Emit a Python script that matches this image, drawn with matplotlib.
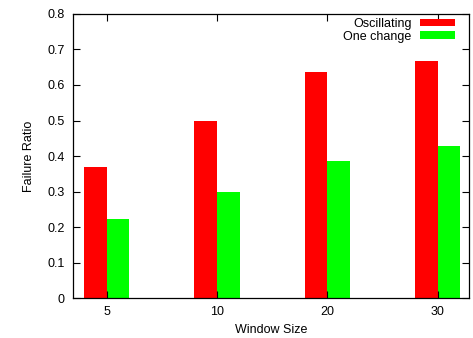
import numpy as np
import matplotlib
matplotlib.use("Agg")
import matplotlib.pyplot as plt

plt.rcParams['font.family'] = ['Liberation Sans', 'DejaVu Sans']

# data
windows = ['5', '10', '20', '30']
oscillating = [0.368, 0.498, 0.638, 0.669]
one_change = [0.222, 0.298, 0.385, 0.427]

fig = plt.figure(figsize=(4.73, 3.38), dpi=100)
ax = fig.add_axes([0.1543, 0.1183, 0.8372, 0.8403])

x = np.arange(len(windows))
w = 0.205
ax.bar(x - w / 2, oscillating, w, color='#ff0000', label='Oscillating')
ax.bar(x + w / 2, one_change, w, color='#00ff00', label='One change')

ax.set_xlim(-0.306, 3.285)
ax.set_ylim(0, 0.8)
ax.set_xticks(x)
ax.set_xticklabels(windows)
ax.set_yticks(np.arange(0, 0.81, 0.1))
ax.set_yticklabels(['0', '0.1', '0.2', '0.3', '0.4', '0.5', '0.6', '0.7', '0.8'])
ax.tick_params(direction='in', top=True, right=True, length=5, width=0.8,
               labelsize=9, pad=6, colors='black')
for s in ax.spines.values():
    s.set_linewidth(0.9)

ax.set_xlabel('Window Size', fontsize=9, labelpad=4)
ax.set_ylabel('Failure Ratio', fontsize=9, labelpad=9)

ax.legend(loc='upper right', bbox_to_anchor=(0.972, 0.995), borderaxespad=0,
          frameon=False, markerfirst=False, fontsize=9, borderpad=0.2,
          handlelength=2.8, handleheight=0.55, labelspacing=0.05,
          handletextpad=0.7)

fig.savefig('out.png', dpi=100)
